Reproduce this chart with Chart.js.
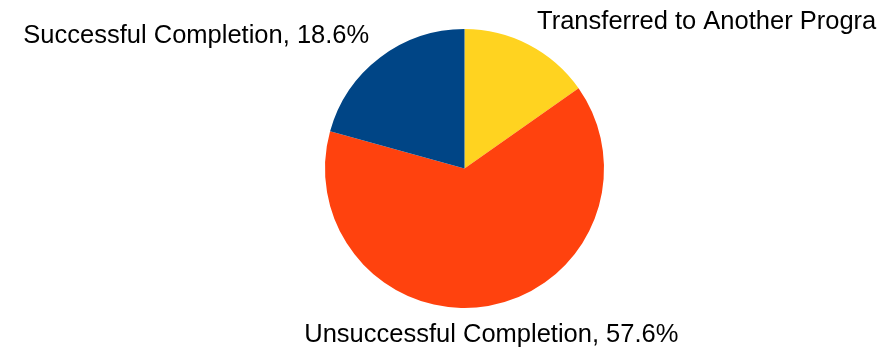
<!DOCTYPE html>
<html>
<head>
<meta charset="utf-8">
<script src="https://cdn.jsdelivr.net/npm/chart.js@4"></script>
<style>
  html, body { margin: 0; padding: 0; background: #ffffff; }
  #wrap { width: 885px; height: 348px; position: relative; }
</style>
</head>
<body>
<div id="wrap"><canvas id="chart_outcomes"></canvas></div>
<script>
// slices listed clockwise from 12 o'clock
const categories = ['Transferred to Another Program', 'Unsuccessful Completion', 'Successful Completion'];
const percents = [13.7, 57.6, 18.6];
const sliceColors = ['#ffd320', '#ff420e', '#004586'];

const labelFont = '25.5px "Liberation Sans", Arial, sans-serif';

// draws "name, xx.x%" outside each slice, anchored on its middle angle
const outsideLabels = {
  id: 'outsideLabels',
  afterDatasetsDraw(chart) {
    const ctx = chart.ctx;
    const arcs = chart.getDatasetMeta(0).data;
    const maxRight = chart.width - 6;
    ctx.save();
    ctx.font = labelFont;
    ctx.fillStyle = '#000000';
    ctx.textBaseline = 'alphabetic';
    arcs.forEach((arc, i) => {
      const mid = (arc.startAngle + arc.endAngle) / 2;
      const r = arc.outerRadius + 18;
      const x = arc.x + Math.cos(mid) * r;
      let y = arc.y + Math.sin(mid) * r;
      const sx = Math.cos(mid);
      if (sx > 0.3) ctx.textAlign = 'left';
      else if (sx < -0.3) ctx.textAlign = 'right';
      else ctx.textAlign = 'center';
      // lower half: hang the text below the anchor
      if (Math.sin(mid) > 0) y += 18.4;
      let text = categories[i] + ', ' + percents[i].toFixed(1) + '%';
      // cut off whatever runs past the right edge
      if (ctx.textAlign === 'left') {
        while (text.length && x + ctx.measureText(text).width > maxRight) {
          text = text.slice(0, -1);
        }
      }
      ctx.fillText(text, x, y);
    });
    ctx.restore();
  }
};

new Chart(document.getElementById('chart_outcomes'), {
  type: 'pie',
  data: {
    labels: categories,
    datasets: [{
      data: percents,
      backgroundColor: sliceColors,
      borderWidth: 0
    }]
  },
  options: {
    responsive: true,
    maintainAspectRatio: false,
    animation: false,
    layout: {
      padding: { top: 29, bottom: 40, left: 325, right: 281 }
    },
    plugins: {
      legend: { display: false },
      tooltip: { enabled: false }
    }
  },
  plugins: [outsideLabels]
});
</script>
</body>
</html>
